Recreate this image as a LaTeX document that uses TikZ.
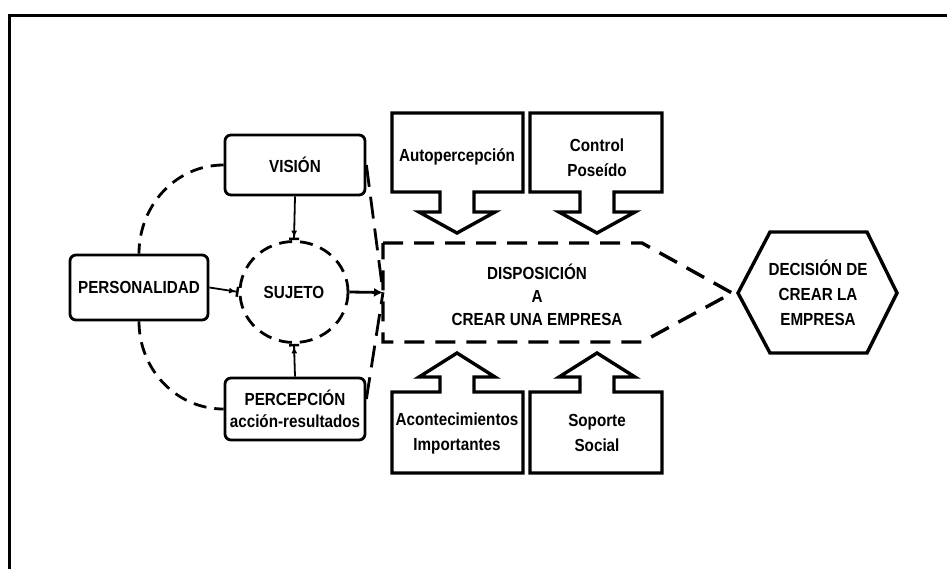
\documentclass[tikz,border=0pt]{standalone}
\usepackage{fontspec}
\setmainfont{Liberation Sans}[FakeStretch=0.87]
\usetikzlibrary{arrows.meta,shapes.geometric,calc}
\begin{document}
\begin{tikzpicture}[x=1pt,y=-1pt,
  every node/.style={font=\fontsize{17.5}{25}\selectfont\bfseries, align=center, inner sep=0pt},
  rbox/.style={draw, line width=2.8pt, rounded corners=6pt},
  solidline/.style={line width=3.4pt, line join=miter},
  dashline/.style={line width=2.8pt, dash pattern=on 13pt off 8pt},
  longdash/.style={line width=2.8pt, dash pattern=on 22pt off 10pt},
  thinarrow/.style={line width=1.8pt, -{Latex[length=7pt,width=6pt] Bar[width=10pt,line width=2.5pt]}},
]
\useasboundingbox (0,0) rectangle (947,568);
% frame
\draw[line width=3pt] (9,575) -- (9,15) -- (955,15);

% left nodes
\node[rbox, minimum width=140pt, minimum height=60pt] (vision) at (295,165) {VISIÓN};
\node[rbox, minimum width=138pt, minimum height=65pt] (pers) at (139,287.5) {PERSONALIDAD};
\node[rbox, minimum width=140pt, minimum height=62pt] (percep) at (295,409) {PERCEPCIÓN\\[-3pt]acción-resultados};
\node[draw, ellipse, dashline, minimum width=108pt, minimum height=101pt] (sujeto) at (294,292) {SUJETO};

% disposition shape
\coordinate (dispW) at (383,292.5);
\draw[dashline, dash pattern=on 20pt off 11pt, line width=3.4pt]
  (383,243) -- (642,243) -- (732,293) -- (642,342) -- (383,342) -- cycle;
\node (disp) at (537,295) {DISPOSICIÓN\\[-2pt]A\\[-2pt]CREAR UNA EMPRESA};

% hexagon
\draw[solidline] (738,293) -- (770,232) -- (867,232) -- (897,293) -- (867,353) -- (770,353) -- cycle;
\node (dec) at (818,293) {DECISIÓN DE\\CREAR LA\\EMPRESA};

% top callouts
\draw[solidline] (392,113) -- (523,113) -- (523,192) -- (474,192) -- (474,212) -- (495,212)
  -- (457,233) -- (419,212) -- (440,212) -- (440,192) -- (392,192) -- cycle;
\node (auto) at (457,157) {Autopercepción};
\draw[solidline] (530,113) -- (662,113) -- (662,192) -- (614,192) -- (614,212) -- (635,212)
  -- (597,233) -- (559,212) -- (580,212) -- (580,192) -- (530,192) -- cycle;
\node (ctrl) at (597,158) {Control\\Poseído};

% bottom callouts
\draw[solidline] (392,473) -- (523,473) -- (523,392) -- (474,392) -- (474,377) -- (495,377)
  -- (457,353) -- (419,377) -- (440,377) -- (440,392) -- (392,392) -- cycle;
\node (acont) at (457,433) {Acontecimientos\\Importantes};
\draw[solidline] (530,473) -- (662,473) -- (662,392) -- (614,392) -- (614,377) -- (635,377)
  -- (597,353) -- (559,377) -- (580,377) -- (580,392) -- (530,392) -- cycle;
\node (sop) at (597,433) {Soporte\\Social};

% connectors
\draw[dashline] (vision.west) to[out=180,in=90] (pers.north);
\draw[dashline] (pers.south) to[out=-90,in=180] (percep.west);
\draw[thinarrow] (vision.south) -- (sujeto.north);
\draw[thinarrow] (percep.north) -- (sujeto.south);
\draw[thinarrow] (pers.east) -- (sujeto.west);
\draw[line width=2.8pt, -{Latex[length=9pt,width=9pt]}] (sujeto.east) -- (dispW);
\draw[longdash] (vision.east) -- (dispW);
\draw[longdash] ([yshift=10pt]percep.east) -- (dispW);
\end{tikzpicture}
\end{document}
